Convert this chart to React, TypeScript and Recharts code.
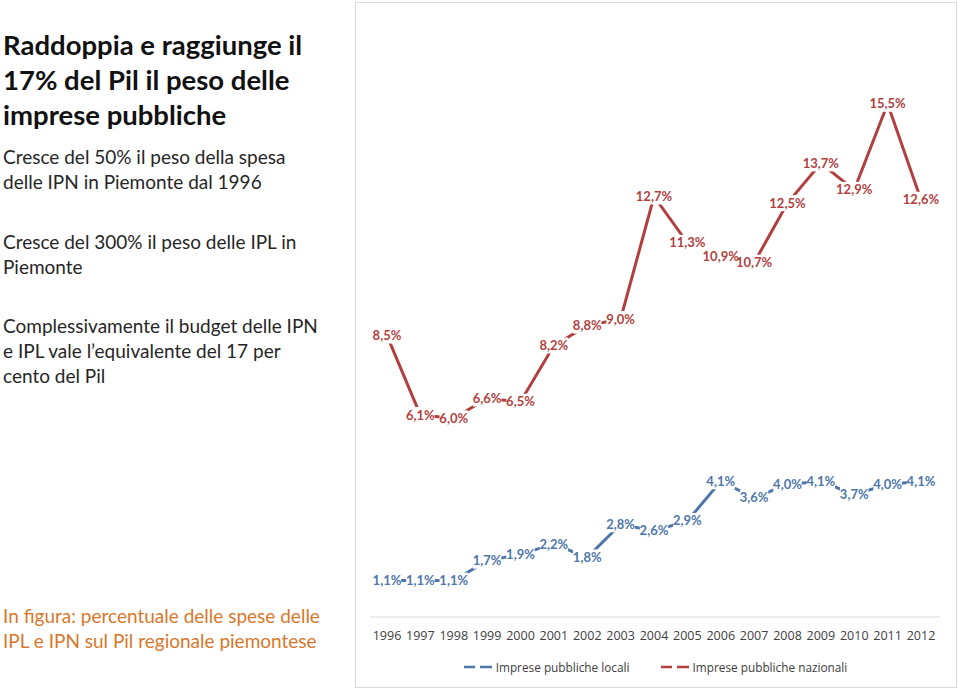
import { LineChart, Line, XAxis, YAxis, Legend, LabelList } from "recharts";

const years = ["1996", "1997", "1998", "1999", "2000", "2001", "2002", "2003", "2004", "2005", "2006", "2007", "2008", "2009", "2010", "2011", "2012"];
const locali = [1.1, 1.1, 1.1, 1.7, 1.9, 2.2, 1.8, 2.8, 2.6, 2.9, 4.1, 3.6, 4.0, 4.1, 3.7, 4.0, 4.1];
const nazionali = [8.5, 6.1, 6.0, 6.6, 6.5, 8.2, 8.8, 9.0, 12.7, 11.3, 10.9, 10.7, 12.5, 13.7, 12.9, 15.5, 12.6];

const data = years.map((year, i) => ({ year, locali: locali[i], nazionali: nazionali[i] }));

const BLUE = "#4f76a9";
const RED = "#b23f3f";
const FONT = "Lato, 'Open Sans', sans-serif";

const fmt = (v: number) => v.toFixed(1).replace(".", ",") + "%";

// white patch behind each label, drawn before all the texts of a series
function LabelBg(props: any) {
  const { x, y, value } = props;
  if (x == null || y == null) return null;
  const w = fmt(Number(value)).length * 6.6 + 2;
  return <rect x={x - w / 2} y={y - 8} width={w} height={16} fill="#fff" />;
}

function makeLabel(color: string) {
  return function PointLabel(props: any) {
    const { x, y, value } = props;
    if (x == null || y == null) return null;
    return (
      <text x={x} y={y + 4.5} textAnchor="middle" fontSize={13} fontWeight={700} fill={color} fontFamily={FONT}>
        {fmt(Number(value))}
      </text>
    );
  };
}

function LegendContent() {
  const item = (color: string, label: string, mr: number) => (
    <span style={{ display: "inline-flex", alignItems: "center", marginRight: mr }}>
      <svg width={30} height={6} style={{ marginRight: 3 }}>
        <line x1={1} y1={3} x2={12} y2={3} stroke={color} strokeWidth={2.5} />
        <line x1={17} y1={3} x2={29} y2={3} stroke={color} strokeWidth={2.5} />
      </svg>
      {label}
    </span>
  );
  return (
    <div style={{ textAlign: "center", fontSize: 11.8, color: "#404040", fontFamily: "'Open Sans', sans-serif" }}>
      {item(BLUE, "Imprese pubbliche locali", 30)}
      {item(RED, "Imprese pubbliche nazionali", 0)}
    </div>
  );
}

export default function App() {
  const para = (top: number, lines: string[], color = "#262626") => (
    <div style={{ position: "absolute", left: 3, top, width: 350, fontSize: 19, lineHeight: "25px", color, fontFamily: FONT }}>
      {lines.map((l, i) => (
        <div key={i}>{l}</div>
      ))}
    </div>
  );
  return (
    <div style={{ position: "absolute", left: 0, top: 0, width: 959, height: 690, background: "#fff", overflow: "hidden" }}>
      <div style={{ position: "absolute", left: 3, top: 27, width: 350, fontSize: 27.5, lineHeight: "35px", fontWeight: 700, color: "#111", fontFamily: FONT }}>
        <div>Raddoppia e raggiunge il</div>
        <div>17% del Pil il peso delle</div>
        <div>imprese pubbliche</div>
      </div>
      {para(144, ["Cresce del 50% il peso della spesa", "delle IPN in Piemonte dal 1996"])}
      {para(229, ["Cresce del 300% il peso delle IPL in", "Piemonte"])}
      {para(313, ["Complessivamente il budget delle IPN", "e IPL vale l\u2019equivalente del 17 per", "cento del Pil"])}
      {para(603, ["In figura: percentuale delle spese delle", "IPL e IPN sul Pil regionale piemontese"], "#d8772b")}

      <div style={{ position: "absolute", left: 355, top: 2, width: 600, height: 684, border: "1px solid #d9d9d9" }}>
        <LineChart width={600} height={684} data={data} margin={{ top: 18, right: 16, left: 14, bottom: 0 }}>
          <XAxis
            dataKey="year"
            axisLine={{ stroke: "#d9d9d9" }}
            tickLine={false}
            height={40}
            padding={{ left: 17, right: 19 }}
            tick={{ fontSize: 12.5, fill: "#404040", fontFamily: "'Open Sans', sans-serif", dy: 6 }}
            interval={0}
          />
          <YAxis hide domain={[0, 18]} />
          <Legend verticalAlign="bottom" height={30} content={<LegendContent />} />
          <Line dataKey="locali" stroke={BLUE} strokeWidth={3} dot={false} isAnimationActive={false}>
            <LabelList dataKey="locali" content={LabelBg} />
            <LabelList dataKey="locali" content={makeLabel(BLUE)} />
          </Line>
          <Line dataKey="nazionali" stroke={RED} strokeWidth={3} dot={false} isAnimationActive={false}>
            <LabelList dataKey="nazionali" content={LabelBg} />
            <LabelList dataKey="nazionali" content={makeLabel(RED)} />
          </Line>
        </LineChart>
      </div>
    </div>
  );
}
